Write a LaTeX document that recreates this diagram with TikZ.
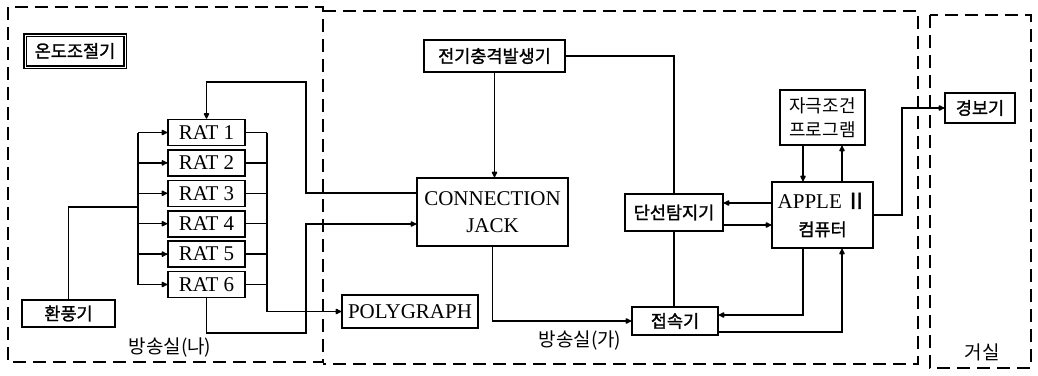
\documentclass[tikz,border=0pt]{standalone}
\usepackage{fontspec}
\setmainfont{Liberation Serif}
\newfontfamily\kr{Noto Sans CJK KR}
\newfontfamily\krb[FakeBold=1.5]{Noto Sans CJK KR}
\usetikzlibrary{arrows.meta}
\begin{document}
\begin{tikzpicture}[x=1pt,y=-1pt,
  box/.style={draw, line width=1.6pt, inner sep=0pt, align=center},
  lat/.style={font=\fontsize{21}{27}\selectfont},
  kor/.style={font=\krb\fontsize{17.5}{23}\selectfont},
  wire/.style={line width=1.5pt},
  arr/.style={wire, -{Latex[length=7pt,width=7pt,round]}},
  dbox/.style={line width=1.6pt, dash pattern=on 13pt off 7pt},
  lbl/.style={font=\kr\fontsize{19}{20}\selectfont, inner sep=0pt}]
\useasboundingbox (0,0) rectangle (1038,375);
% rooms
\draw[dbox] (8,7) rectangle (323,362);
\draw[dbox] (323,11) -- (918,11) -- (918,364) -- (323,364);
\draw[dbox] (930,15) rectangle (1031,368);
\node[lbl] (roomB) at (170,347) {방송실(나)};
\node[lbl] (roomA) at (580,340) {방송실(가)};
\node[lbl] (living) at (982,352) {거실};
% nodes
\node[box,kor,minimum width=100pt,minimum height=32pt,double,double distance=1pt] (temp) at (75,51) {온도조절기};
\node[box,kor,minimum width=93pt,minimum height=27pt] (fan) at (68.5,313.5) {환풍기};
\foreach \i in {1,...,6}{
  \node[box,lat,minimum width=77pt,minimum height=26pt] (r\i) at (206.5,{132.5+30.4*(\i-1)}) {RAT \i};
}
\node[box,lat,minimum width=151pt,minimum height=68pt] (cj) at (492.5,212) {CONNECTION\\JACK};
\node[box,kor,minimum width=141pt,minimum height=32pt] (ep) at (494.5,56) {전기충격발생기};
\node[box,lat,minimum width=136pt,minimum height=33pt] (poly) at (410,311.5) {POLYGRAPH};
\node[box,kor,minimum width=98pt,minimum height=37pt] (dt) at (674,212.5) {단선탐지기};
\node[box,kor,minimum width=86pt,minimum height=28pt] (jk) at (675,321) {접속기};
\node[box,lat,minimum width=101pt,minimum height=66pt] (ap) at (822.5,215)
  {APPLE\,{\krb\fontsize{22}{27}\selectfont Ⅱ}\\{\krb\fontsize{17.5}{20}\selectfont 컴퓨터}};
\node[box,font=\kr\fontsize{18}{24}\selectfont,minimum width=85pt,minimum height=55pt] (pg) at (822.5,117.5) {자극조건\\프로그램};
\node[box,kor,minimum width=70pt,minimum height=30pt] (al) at (980,108) {경보기};
% coordinates
\coordinate (bl) at (138,0);
\coordinate (br) at (267,0);
\coordinate (hj) at (138,207);
\coordinate (c1) at (306,193);
\coordinate (k1) at (306,82);
\coordinate (k2) at (306,333);
\coordinate (k3) at (306,224);
\coordinate (a1) at (803,0);
\coordinate (a2) at (842,0);
\coordinate (h1) at (0,203);
\coordinate (h2) at (0,225);
\coordinate (h3) at (0,315);
\coordinate (h4) at (0,332);
\coordinate (h5) at (902,0);
% left bus
\draw[wire] (bl |- r1) -- (bl |- r6);
\draw[wire] (fan.north) |- (hj);
\foreach \i in {1,...,6}{
  \draw[arr] (bl |- r\i) -- (r\i.west);
  \draw[wire] (r\i.east) -- (br |- r\i);
}
% right bus to polygraph
\draw[arr] (br |- r1) |- (poly.west);
% CJ to RAT1
\draw[arr] (cj.west |- c1) -- (c1) -- (k1) -| (r1.north);
% RAT6 to CJ
\draw[arr] (r6.south) |- (k2) -- (k3) -- (cj.west |- k3);
% generator
\draw[arr] (ep.south) -- (ep.south |- cj.north);
\draw[wire] (ep.east) -| (dt.north);
\draw[wire] (dt.south) -- (dt.south |- jk.north);
\draw[arr] (cj.south) |- (jk.west);
% apple links
\draw[arr] (a1 |- pg.south) -- (a1 |- ap.north);
\draw[arr] (a2 |- ap.north) -- (a2 |- pg.south);
\draw[arr] (ap.west |- h1) -- (dt.east |- h1);
\draw[arr] (dt.east |- h2) -- (ap.west |- h2);
\draw[arr] (a1 |- ap.south) |- (jk.east |- h3);
\draw[arr] (jk.east |- h4) -| (a2 |- ap.south);
\draw[arr] (ap.east) -- (h5 |- ap.east) |- (al.west);
\end{tikzpicture}
\end{document}
